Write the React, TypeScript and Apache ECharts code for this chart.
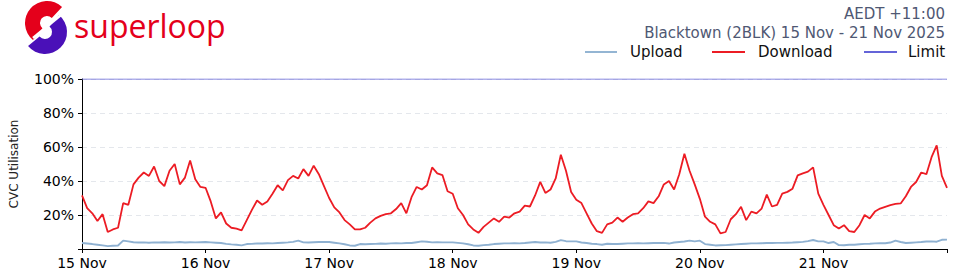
import React, { useEffect, useRef } from 'react';
import * as echarts from 'echarts';

// Tick labels (one per day, x axis in hours from 15 Nov 00:00)
const dayLabels = ['15 Nov', '16 Nov', '17 Nov', '18 Nov', '19 Nov', '20 Nov', '21 Nov'];
const yTickValues = [20, 40, 60, 80, 100];

// Hourly download utilisation (%) per day
const download15 = [31.5, 24, 21, 16.5, 20.5, 10, 11.5, 12.5, 27, 26, 38, 42, 45, 43, 48.5, 40, 37, 46, 50, 38, 42, 52, 41, 36.5];
const download16 = [36, 28, 18, 21.5, 15, 12.5, 12, 11, 17, 23, 28.5, 26, 28, 32.5, 37.5, 34.5, 40.5, 43, 41.5, 47, 43, 49, 44, 37];
const download17 = [30, 24.5, 21.5, 17, 14.5, 11.5, 11.5, 12.5, 15.5, 18, 19.5, 20.5, 21, 23.5, 27, 21, 30.5, 36.5, 35, 37.5, 48, 44.5, 43.5, 34];
const download18 = [32.5, 24, 20, 14.5, 11.5, 9.5, 13, 15.5, 18, 16, 19, 18.5, 21, 22, 25.5, 25, 31.5, 39.5, 33, 35, 41.5, 55.5, 46, 33.5];
const download19 = [29, 27, 21, 15, 10.5, 9.5, 14.5, 15.5, 18.5, 16, 18.5, 20.5, 21, 24, 28, 27, 31, 38, 40, 35, 44, 56, 46, 38];
const download20 = [29.5, 19, 16, 14.5, 9.2, 10, 17.5, 20.5, 24.8, 17, 22, 21, 23.8, 32, 25, 26, 32.6, 33.6, 35.5, 43.3, 44.5, 45.5, 48, 32.6];
const download21 = [26, 20, 14, 12, 14, 10.5, 10, 14, 20, 18, 22, 23.8, 24.8, 25.8, 26.5, 26.8, 31, 36.5, 39.4, 45, 44, 54, 61, 43];
const downloadEnd = [36];

// Hourly upload utilisation (%) per day
const upload15 = [3.5, 3.2, 2.9, 2.5, 2.1, 1.7, 1.9, 2.1, 4.9, 4.5, 4.0, 3.8, 3.9, 3.7, 3.9, 3.8, 4.0, 3.8, 3.9, 4.1, 3.8, 4.0, 3.9, 4.0];
const upload16 = [4.1, 3.9, 3.7, 3.5, 3.0, 2.7, 2.5, 2.1, 2.9, 3.0, 3.3, 3.2, 3.4, 3.3, 3.5, 3.7, 3.9, 4.2, 4.9, 3.9, 3.8, 4.0, 4.1, 4.1];
const upload17 = [4.1, 3.7, 3.3, 2.8, 2.1, 1.9, 2.9, 2.8, 2.9, 3.0, 3.2, 3.1, 3.3, 3.4, 3.3, 3.5, 3.5, 4.0, 4.5, 4.3, 3.9, 4.0, 3.9, 3.9];
const upload18 = [3.9, 3.6, 3.3, 2.8, 2.1, 1.9, 2.3, 2.5, 2.9, 3.1, 3.3, 3.3, 3.4, 3.3, 3.5, 3.8, 4.1, 3.8, 3.9, 3.7, 4.2, 5.2, 4.6, 4.5];
const upload19 = [4.5, 3.8, 3.5, 3.1, 2.9, 2.5, 3.1, 2.9, 2.9, 3.1, 3.3, 3.3, 3.4, 3.3, 3.4, 3.5, 3.5, 3.6, 3.2, 3.8, 4.1, 4.4, 4.9, 4.5];
const upload20 = [4.9, 2.9, 2.5, 2.1, 2.2, 2.3, 2.5, 2.7, 2.9, 3.1, 3.3, 3.3, 3.4, 3.5, 3.5, 3.6, 3.6, 3.7, 3.8, 4.0, 4.2, 4.6, 5.3, 4.5];
const upload21 = [4.5, 3.5, 4.1, 2.3, 2.2, 2.5, 2.5, 2.8, 3.0, 3.1, 3.3, 3.4, 3.4, 3.8, 4.9, 4.1, 3.5, 3.7, 3.9, 4.1, 4.4, 4.5, 4.3, 5.4];
const uploadEnd = [5.5];

const limitValue = 100;
const totalHours = 168;

const download = [...download15, ...download16, ...download17, ...download18, ...download19, ...download20, ...download21, ...downloadEnd];
const upload = [...upload15, ...upload16, ...upload17, ...upload18, ...upload19, ...upload20, ...upload21, ...uploadEnd];

const FONT = '"DejaVu Sans", sans-serif';
const RED = '#ec1c24';
const UP = '#8fb1d1';
const LIMIT = '#6464d8';
const TITLE = '#4f5873';

export default function App() {
  const ref = useRef<HTMLDivElement>(null);
  useEffect(() => {
    if (!ref.current) return;
    const chart = echarts.init(ref.current, undefined, { renderer: 'svg' });
    const option: any = {
      animation: false,
      backgroundColor: '#fff',
      grid: { left: 76, right: 13, top: 79, bottom: 31 },
      xAxis: {
        type: 'value',
        min: 0,
        max: totalHours,
        interval: 24,
        axisLine: { show: true, lineStyle: { color: '#000', width: 1 } },
        axisTick: { show: true, length: 4, lineStyle: { color: '#000' } },
        splitLine: { show: false },
        axisLabel: {
          fontFamily: FONT,
          fontSize: 14,
          color: '#000',
          margin: 7,
          formatter: (v: number) => dayLabels[Math.round(v / 24)] ?? '',
        },
      },
      yAxis: {
        type: 'value',
        min: 0,
        max: 100,
        interval: 20,
        name: 'CVC Utilisation',
        nameLocation: 'middle',
        nameGap: 62,
        nameTextStyle: { fontFamily: FONT, fontSize: 12, color: '#222' },
        axisLine: { show: true, lineStyle: { color: '#000', width: 1 } },
        axisTick: { show: true, length: 4, lineStyle: { color: '#000' } },
        splitLine: { show: true, lineStyle: { color: '#e4e7ec', type: [5, 4], width: 1 } },
        axisLabel: {
          fontFamily: FONT,
          fontSize: 14,
          color: '#000',
          margin: 8,
          formatter: (v: number) => (yTickValues.includes(v) ? v + '%' : ''),
        },
      },
      series: [
        {
          name: 'Upload',
          type: 'line',
          showSymbol: false,
          data: upload.map((v, i) => [i, v]),
          lineStyle: { color: UP, width: 1.9 },
          itemStyle: { color: UP },
          z: 2,
        },
        {
          name: 'Download',
          type: 'line',
          showSymbol: false,
          data: download.map((v, i) => [i, v]),
          lineStyle: { color: RED, width: 1.8 },
          itemStyle: { color: RED },
          z: 3,
        },
        {
          name: 'Limit',
          type: 'line',
          showSymbol: false,
          data: [[0, limitValue], [totalHours, limitValue]],
          lineStyle: { color: LIMIT, width: 1.2 },
          itemStyle: { color: LIMIT },
          z: 4,
        },
      ],
      graphic: [
        // logo mark
        {
          type: 'sector',
          shape: { cx: 47, cy: 23, r: 22, r0: 7, startAngle: Math.PI * 0.72, endAngle: Math.PI * 1.74, clockwise: true },
          style: { fill: '#e4001b' },
          z: 10,
        },
        {
          type: 'sector',
          shape: { cx: 45, cy: 32, r: 22, r0: 7, startAngle: -Math.PI * 0.28, endAngle: Math.PI * 0.78, clockwise: true },
          style: { fill: '#4a10b8' },
          z: 11,
        },
        {
          type: 'line',
          shape: { x1: 33, y1: 38, x2: 61, y2: 15 },
          style: { stroke: '#fff', lineWidth: 2.5 },
          z: 12,
        },
        {
          type: 'text',
          x: 74,
          y: 25,
          style: { text: 'superloop', font: '500 32px "Open Sans", sans-serif', fill: '#e4001b', verticalAlign: 'middle' },
          z: 10,
        },
        // titles
        {
          type: 'text',
          x: 945,
          y: 14,
          style: { text: 'AEDT +11:00', font: '15px ' + FONT, fill: TITLE, align: 'right', verticalAlign: 'middle' },
        },
        {
          type: 'text',
          x: 945,
          y: 32.5,
          style: { text: 'Blacktown (2BLK) 15 Nov - 21 Nov 2025', font: '15px ' + FONT, fill: TITLE, align: 'right', verticalAlign: 'middle' },
        },
        // legend
        { type: 'line', shape: { x1: 585, y1: 52, x2: 617, y2: 52 }, style: { stroke: UP, lineWidth: 1.9 } },
        { type: 'text', x: 630, y: 52, style: { text: 'Upload', font: '15px ' + FONT, fill: '#111', align: 'left', verticalAlign: 'middle' } },
        { type: 'line', shape: { x1: 712, y1: 52, x2: 745, y2: 52 }, style: { stroke: RED, lineWidth: 1.8 } },
        { type: 'text', x: 758, y: 52, style: { text: 'Download', font: '15px ' + FONT, fill: '#111', align: 'left', verticalAlign: 'middle' } },
        { type: 'line', shape: { x1: 864, y1: 52, x2: 897, y2: 52 }, style: { stroke: LIMIT, lineWidth: 1.8 } },
        { type: 'text', x: 908, y: 52, style: { text: 'Limit', font: '15px ' + FONT, fill: '#111', align: 'left', verticalAlign: 'middle' } },
      ],
    };
    chart.setOption(option);
    return () => chart.dispose();
  }, []);
  return <div ref={ref} style={{ position: 'fixed', left: 0, top: 0, width: 960, height: 280 }} />;
}
